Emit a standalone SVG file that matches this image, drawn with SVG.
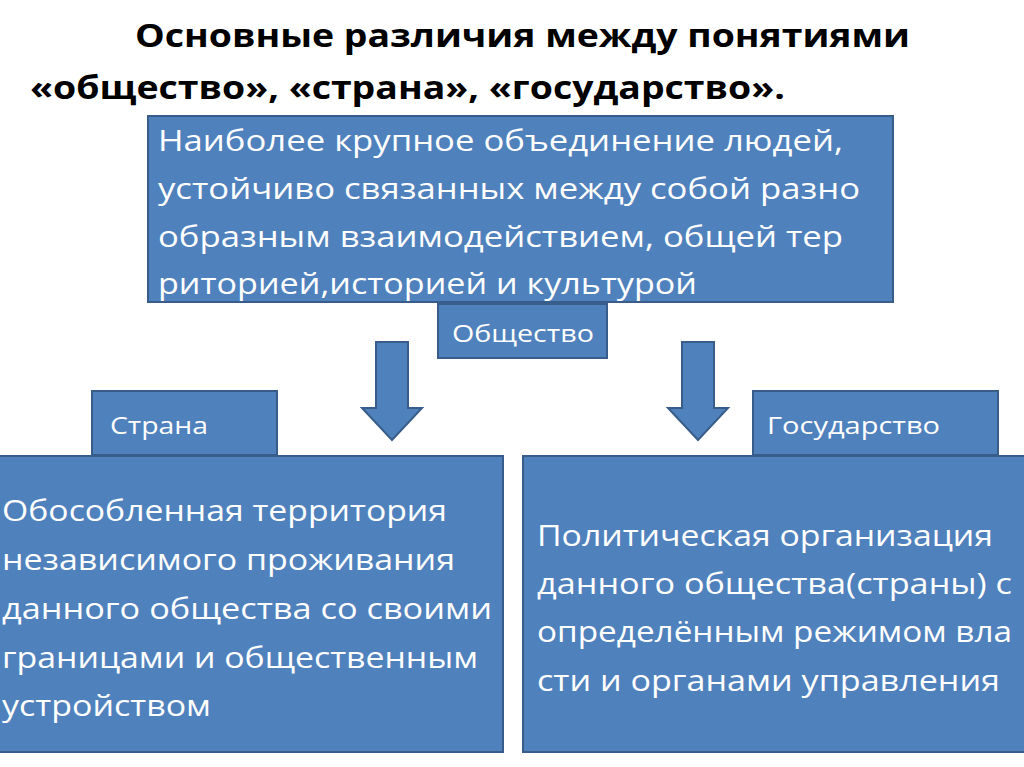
<svg xmlns="http://www.w3.org/2000/svg" width="1024" height="767" viewBox="0 0 1024 767">
<style>
.b{fill:#4f81bd;stroke:#385d8a;stroke-width:2}
.t{font-family:"Open Sans","DejaVu Sans",sans-serif;fill:#fff}
.big{font-size:29px}
.sm{font-size:24px}
.h{font-family:"Open Sans","DejaVu Sans",sans-serif;font-weight:bold;font-size:32px;fill:#000}
</style>
<rect width="1024" height="767" fill="#fff"/>
<text class="h" x="135" y="47" textLength="775" lengthAdjust="spacingAndGlyphs">Основные различия между понятиями</text>
<text class="h" x="30" y="99" textLength="755" lengthAdjust="spacingAndGlyphs">«общество», «страна», «государство».</text>
<g id="obshchestvo-def"><rect class="b" x="148" y="116" width="745" height="186"/>
<text class="t big" x="158" y="151" textLength="685" lengthAdjust="spacingAndGlyphs">Наиболее крупное объединение людей,</text>
<text class="t big" x="158" y="199" textLength="702" lengthAdjust="spacingAndGlyphs">устойчиво связанных между собой разно</text>
<text class="t big" x="158" y="247" textLength="685" lengthAdjust="spacingAndGlyphs">образным взаимодействием, общей тер</text>
<text class="t big" x="158" y="294" textLength="539" lengthAdjust="spacingAndGlyphs">риторией,историей и культурой</text></g>
<g id="obshchestvo"><rect class="b" x="438" y="304" width="169" height="54"/><text class="t sm" x="452" y="342" textLength="142" lengthAdjust="spacingAndGlyphs">Общество</text></g>
<g id="connectors">
<path class="b" d="M376 342H408V408H422L392 440L362 408H376Z"/>
<path class="b" d="M682 342H714V408H728L698 440L668 408H682Z"/>
</g>
<g id="strana"><rect class="b" x="92" y="391" width="185" height="64"/><text class="t sm" x="110" y="434" textLength="98" lengthAdjust="spacingAndGlyphs">Страна</text></g>
<g id="gosudarstvo"><rect class="b" x="753" y="391" width="245" height="64"/><text class="t sm" x="767" y="434" textLength="173" lengthAdjust="spacingAndGlyphs">Государство</text></g>
<g id="strana-def"><rect class="b" x="-2" y="456" width="505" height="296"/>
<text class="t big" x="2" y="521" textLength="445" lengthAdjust="spacingAndGlyphs">Обособленная территория</text>
<text class="t big" x="2" y="570" textLength="453" lengthAdjust="spacingAndGlyphs">независимого проживания</text>
<text class="t big" x="2" y="619" textLength="490" lengthAdjust="spacingAndGlyphs">данного общества со своими</text>
<text class="t big" x="2" y="668" textLength="476" lengthAdjust="spacingAndGlyphs">границами и общественным</text>
<text class="t big" x="2" y="716" textLength="209" lengthAdjust="spacingAndGlyphs">устройством</text></g>
<g id="gosudarstvo-def"><rect class="b" x="523" y="456" width="510" height="296"/>
<text class="t big" x="537" y="546" textLength="456" lengthAdjust="spacingAndGlyphs">Политическая организация</text>
<text class="t big" x="537" y="594" textLength="475" lengthAdjust="spacingAndGlyphs">данного общества(страны) с</text>
<text class="t big" x="537" y="642" textLength="475" lengthAdjust="spacingAndGlyphs">определённым режимом вла</text>
<text class="t big" x="537" y="691" textLength="463" lengthAdjust="spacingAndGlyphs">сти и органами управления</text></g>
</svg>
